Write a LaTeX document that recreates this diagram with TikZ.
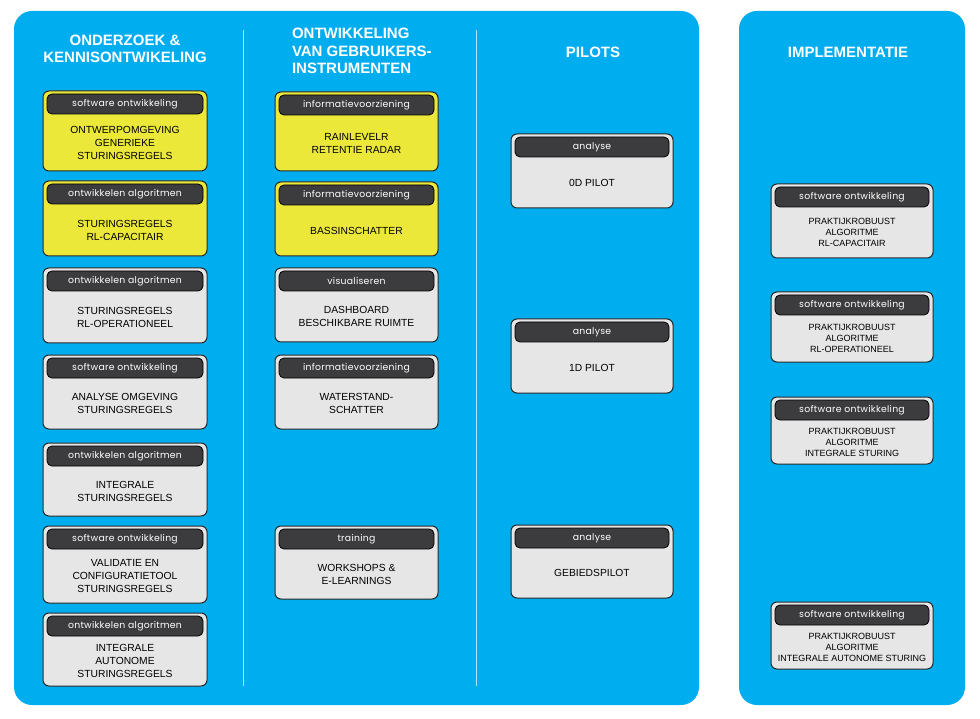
\documentclass[tikz,border=0pt]{standalone}
\usepackage{fontspec}
\setmainfont{Liberation Sans}
\newfontfamily\labelfont[LetterSpace=3]{Poppins}
\usetikzlibrary{calc}
\definecolor{cblue}{RGB}{0,174,239}
\definecolor{cyellow}{RGB}{236,232,58}
\definecolor{cgray}{RGB}{230,230,230}
\definecolor{cbar}{RGB}{60,60,62}
\definecolor{cborder}{RGB}{40,40,40}
\tikzset{
  panel/.style={fill=cblue, rounded corners=18pt},
  divider/.style={draw=white, draw opacity=0.7, line width=0.9pt},
  title/.style={text=white, font=\bfseries\fontsize{15}{17.5}\selectfont, inner sep=0pt, outer sep=0pt},
  cardbox/.style={draw=cborder, line width=1pt, rounded corners=6pt, inner sep=0pt, outer sep=0pt},
  cardbar/.style={draw=black, fill=cbar, line width=0.8pt, rounded corners=5pt, minimum height=20pt, inner sep=0pt, outer sep=0pt, text=white, font=\labelfont\fontsize{9.3}{10}\selectfont},
  bodytext/.style={align=center, inner sep=0pt, text=black, font=\fontsize{10.3}{13}\selectfont},
  smalltext/.style={align=center, inner sep=0pt, text=black, font=\fontsize{9}{11}\selectfont}
}
\newcommand\card[9]{%
  \node[cardbox, fill=#6, minimum width={#4-#2}, minimum height={#5-#3}] (#1) at ({(#2+#4)/2},{(#3+#5)/2}) {};
  \node[cardbar, minimum width={#4-#2-8}, anchor=north] (#1-bar) at ([yshift=-3pt]#1.north) {#7};
  \node[#9] (#1-txt) at ($(#1-bar.south)!0.5!(#1.south)$) {#8};
}
\begin{document}
\begin{tikzpicture}[x=1pt,y=-1pt]
\useasboundingbox[fill=white] (0,0) rectangle (980,719);
% panels
\fill[panel] (14,11) rectangle (699,705);
\fill[panel] (739,11) rectangle (965,705);
\draw[divider] (243,30) -- (243,686);
\draw[divider] (476,30) -- (476,686);
% titles
\node[title, align=center] (t1) at (125,49) {ONDERZOEK \&\\KENNISONTWIKELING};
\node[title, align=left, anchor=west] (t2) at (292,51) {ONTWIKKELING\\VAN GEBRUIKERS-\\INSTRUMENTEN};
\node[title] (t3) at (593,52) {PILOTS};
\node[title] (t4) at (848,52) {IMPLEMENTATIE};
% column 1
\card{a1}{43}{91}{207}{171}{cyellow}{software ontwikkeling}{ONTWERPOMGEVING\\GENERIEKE\\STURINGSREGELS}{bodytext}
\card{a2}{43}{181}{207}{256}{cyellow}{ontwikkelen algoritmen}{STURINGSREGELS\\RL-CAPACITAIR}{bodytext}
\card{a3}{43}{268}{207}{343}{cgray}{ontwikkelen algoritmen}{STURINGSREGELS\\RL-OPERATIONEEL}{bodytext}
\card{a4}{43}{355}{207}{429}{cgray}{software ontwikkeling}{ANALYSE OMGEVING\\STURINGSREGELS}{bodytext}
\card{a5}{43}{443}{207}{516}{cgray}{ontwikkelen algoritmen}{INTEGRALE\\STURINGSREGELS}{bodytext}
\card{a6}{43}{526}{207}{603}{cgray}{software ontwikkeling}{VALIDATIE EN\\CONFIGURATIETOOL\\STURINGSREGELS}{bodytext}
\card{a7}{43}{613}{207}{686}{cgray}{ontwikkelen algoritmen}{INTEGRALE\\AUTONOME\\STURINGSREGELS}{bodytext}
% column 2
\card{b1}{275}{92}{438}{171}{cyellow}{informatievoorziening}{RAINLEVELR\\RETENTIE RADAR}{bodytext}
\card{b2}{275}{182}{438}{256}{cyellow}{informatievoorziening}{BASSINSCHATTER}{bodytext}
\card{b3}{275}{268}{438}{342}{cgray}{visualiseren}{DASHBOARD\\BESCHIKBARE RUIMTE}{bodytext}
\card{b4}{275}{355}{438}{429}{cgray}{informatievoorziening}{WATERSTAND-\\SCHATTER}{bodytext}
\card{b5}{275}{526}{438}{599}{cgray}{training}{WORKSHOPS \&\\E-LEARNINGS}{bodytext}
% column 3
\card{p1}{511}{134}{673}{208}{cgray}{analyse}{0D PILOT}{bodytext}
\card{p2}{511}{319}{673}{393}{cgray}{analyse}{1D PILOT}{bodytext}
\card{p3}{511}{525}{673}{598}{cgray}{analyse}{GEBIEDSPILOT}{bodytext}
% column 4
\card{i1}{771}{184}{933}{258}{cgray}{software ontwikkeling}{PRAKTIJKROBUUST\\ALGORITME\\RL-CAPACITAIR}{smalltext}
\card{i2}{771}{292}{933}{362}{cgray}{software ontwikkeling}{PRAKTIJKROBUUST\\ALGORITME\\RL-OPERATIONEEL}{smalltext}
\card{i3}{771}{397}{933}{464}{cgray}{software ontwikkeling}{PRAKTIJKROBUUST\\ALGORITME\\INTEGRALE STURING}{smalltext}
\card{i4}{771}{602}{933}{669}{cgray}{software ontwikkeling}{PRAKTIJKROBUUST\\ALGORITME\\INTEGRALE AUTONOME STURING}{smalltext}
\end{tikzpicture}
\end{document}
